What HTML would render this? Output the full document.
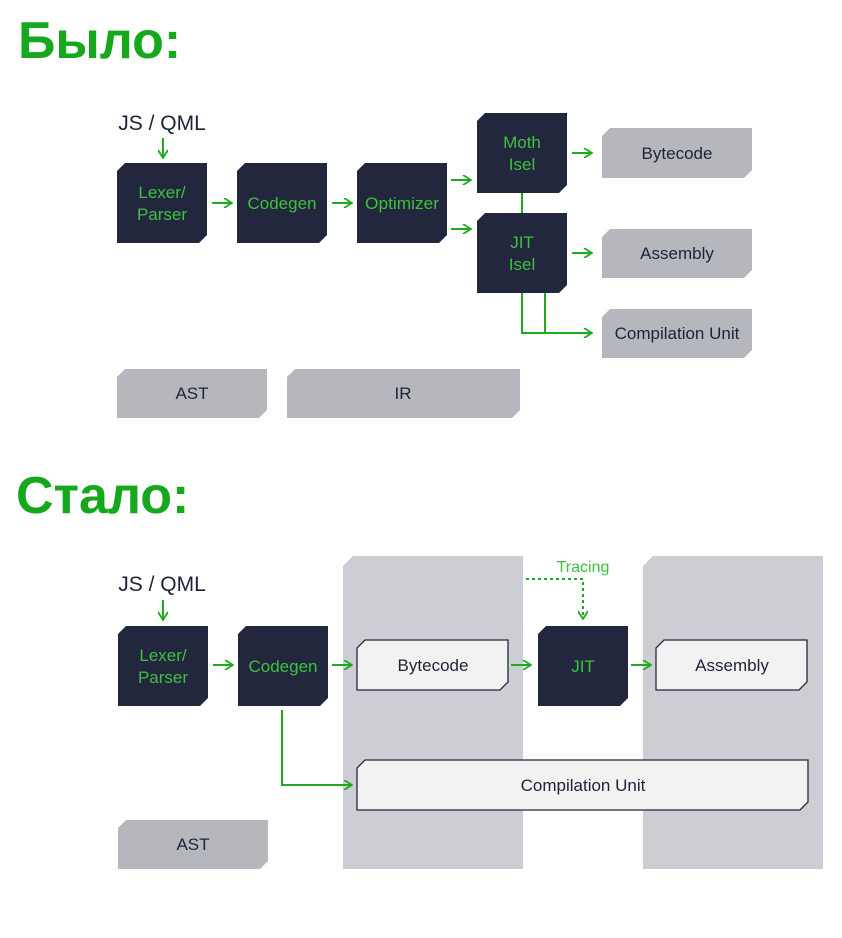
<!DOCTYPE html>
<html><head><meta charset="utf-8"><style>
html,body{margin:0;padding:0;background:#fff;}
svg{display:block;}
.t{font-family:"Liberation Sans","DejaVu Sans",sans-serif;}
</style></head><body>
<svg width="842" height="938" viewBox="0 0 842 938" xmlns="http://www.w3.org/2000/svg" class="t">
<defs>
<marker id="ah" viewBox="0 0 10 10" refX="9" refY="5" markerWidth="10" markerHeight="10" markerUnits="userSpaceOnUse" orient="auto">
<path d="M1,0 L9,5 L1,10" fill="none" stroke="#1faa1f" stroke-width="1.8"/>
</marker>
</defs>
<text x="18" y="58" font-size="52" font-weight="bold" fill="#15a81c">Было:</text>
<text x="16" y="513" font-size="52" font-weight="bold" fill="#15a81c">Стало:</text>

<g font-size="17" text-anchor="middle">
<text x="162" y="130" font-size="21" fill="#1d2238">JS / QML</text>
<g fill="#22273e">
<polygon points="125,163 207,163 207,235 199,243 117,243 117,171"/>
<polygon points="245,163 327,163 327,235 319,243 237,243 237,171"/>
<polygon points="365,163 447,163 447,235 439,243 357,243 357,171"/>
<polygon points="485,113 567,113 567,185 559,193 477,193 477,121"/>
<polygon points="485,213 567,213 567,285 559,293 477,293 477,221"/>
</g>
<g fill="#b5b7bd">
<polygon points="610,128 752,128 752,170 744,178 602,178 602,136"/>
<polygon points="610,229 752,229 752,270 744,278 602,278 602,237"/>
<polygon points="610,309 752,309 752,350 744,358 602,358 602,317"/>
<polygon points="125,369 267,369 267,410 259,418 117,418 117,377"/>
<polygon points="295,369 520,369 520,410 512,418 287,418 287,377"/>
</g>
<g fill="#3cc23c">
<text x="162" y="198">Lexer/</text><text x="162" y="220">Parser</text>
<text x="282" y="209">Codegen</text>
<text x="402" y="209" textLength="74" lengthAdjust="spacingAndGlyphs">Optimizer</text>
<text x="522" y="148">Moth</text><text x="522" y="170">Isel</text>
<text x="522" y="248">JIT</text><text x="522" y="270">Isel</text>
</g>
<g fill="#1d2238">
<text x="677" y="159">Bytecode</text>
<text x="677" y="259">Assembly</text>
<text x="677" y="339">Compilation Unit</text>
<text x="192" y="399">AST</text>
<text x="403" y="399">IR</text>
</g>
<g stroke="#1faa1f" stroke-width="2" fill="none">
<line x1="163" y1="138" x2="163" y2="158" marker-end="url(#ah)"/>
<line x1="212" y1="203" x2="232" y2="203" marker-end="url(#ah)"/>
<line x1="332" y1="203" x2="352" y2="203" marker-end="url(#ah)"/>
<line x1="451" y1="180" x2="471" y2="180" marker-end="url(#ah)"/>
<line x1="451" y1="229" x2="471" y2="229" marker-end="url(#ah)"/>
<line x1="572" y1="153" x2="592" y2="153" marker-end="url(#ah)"/>
<line x1="572" y1="253" x2="592" y2="253" marker-end="url(#ah)"/>
<line x1="522" y1="193" x2="522" y2="213"/>
<polyline points="522,293 522,333 592,333" marker-end="url(#ah)"/>
<line x1="545" y1="293" x2="545" y2="333"/>
</g>

<g fill="#cdced3">
<polygon points="353,556 523,556 523,869 343,869 343,566"/>
<polygon points="653,556 823,556 823,869 643,869 643,566"/>
</g>
<text x="162" y="591" font-size="21" fill="#1d2238">JS / QML</text>
<g fill="#22273e">
<polygon points="126,626 208,626 208,698 200,706 118,706 118,634"/>
<polygon points="246,626 328,626 328,698 320,706 238,706 238,634"/>
<polygon points="546,626 628,626 628,698 620,706 538,706 538,634"/>
</g>
<g fill="#f2f2f2" stroke="#22273e" stroke-width="1.3">
<polygon points="365,640 508,640 508,682 500,690 357,690 357,648"/>
<polygon points="664,640 807,640 807,682 799,690 656,690 656,648"/>
<polygon points="365,760 808,760 808,802 800,810 357,810 357,768"/>
</g>
<polygon points="126,820 268,820 268,861 260,869 118,869 118,828" fill="#b5b7bd"/>
<g fill="#3cc23c">
<text x="163" y="661">Lexer/</text><text x="163" y="683">Parser</text>
<text x="283" y="672">Codegen</text>
<text x="583" y="672">JIT</text>
<text x="583" y="572" font-size="16">Tracing</text>
</g>
<g fill="#1d2238">
<text x="433" y="671">Bytecode</text>
<text x="732" y="671">Assembly</text>
<text x="583" y="791">Compilation Unit</text>
<text x="193" y="850">AST</text>
</g>
<g stroke="#1faa1f" stroke-width="2" fill="none">
<line x1="163" y1="600" x2="163" y2="620" marker-end="url(#ah)"/>
<line x1="213" y1="665" x2="233" y2="665" marker-end="url(#ah)"/>
<line x1="332" y1="665" x2="352" y2="665" marker-end="url(#ah)"/>
<line x1="511" y1="665" x2="531" y2="665" marker-end="url(#ah)"/>
<line x1="631" y1="665" x2="651" y2="665" marker-end="url(#ah)"/>
<polyline points="282,710 282,785 352,785" marker-end="url(#ah)"/>
<polyline points="526,579 583,579 583,619" stroke-dasharray="3,3" marker-end="url(#ah)"/>
</g>
</g>
</svg>
</body></html>
